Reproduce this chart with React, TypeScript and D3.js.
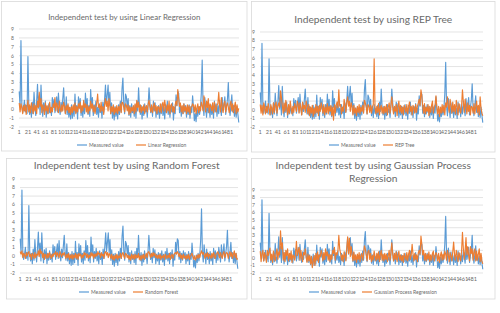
import React from 'react';
import * as d3 from 'd3';

const N_CATEGORIES = 505;
const xTickLabels = [1, 21, 41, 61, 81, 101, 121, 141, 161, 181, 201, 221, 241, 261, 281, 301, 321, 341, 361, 381, 401, 421, 441, 461, 481];
const yTicks = [-2, -1, 0, 1, 2, 3, 4, 5, 6, 7, 8, 9];

// sampled every 2nd observation: observation number = 1 + 2*i
const measured = [
  2.0, 0.3, 7.7, 0.5, -0.4, 0.2, 1.0, -0.3, 0.4, -0.5, 5.9, 0.6, -0.6, 0.3, -0.9, 0.8, -0.5, 1.9, 0.2, -0.7,
  0.9, 2.8, 0.1, 1.5, -0.6, 2.7, 0.4, -0.8, 0.7, -0.3, 0.9, -0.9, 0.3, -0.5, 0.6, -0.4, 0.2, -0.7, 1.3, 0.2,
  1.1, -0.4, 0.5, 1.4, -0.3, 1.8, 0.1, -0.6, 0.8, -0.2, 1.2, 2.4, 0.3, -0.5, 1.4, -0.6, 0.4, -0.9, 0.2, -1.1,
  0.5, -1.0, 0.3, -0.8, 1.7, -0.4, 0.4, -1.1, 1.4, 0.1, 1.2, -0.7, 0.3, -0.9, 0.6, -0.5, 1.8, 0.2, 1.2, -0.6,
  0.4, -0.8, 2.2, 0.3, 1.3, -0.7, 0.5, -0.3, 0.9, -0.6, 0.2, -0.9, 0.6, -0.4, 0.3, -1.0, 0.8, -0.3, 1.1, 2.7,
  0.5, 1.6, 2.7, 0.4, 1.9, -0.5, 0.7, -1.0, 0.2, -1.2, 0.3, -0.8, 0.1, -1.1, 0.5, -0.6, 0.9, -0.3, 2.3, 3.5,
  0.6, -0.5, 1.7, 1.4, 0.2, 1.2, -0.7, 0.4, -0.9, 0.6, -0.4, 0.2, -0.8, 0.5, -1.0, 0.9, -0.2, 2.4, 0.3, -0.6,
  0.4, -1.1, 0.2, -0.7, 0.6, -0.3, 0.1, -0.9, 0.5, 2.4, 0.8, -0.4, 0.3, -0.8, 0.9, -0.2, 0.7, -0.9, 0.2, -0.6,
  0.4, -1.0, 0.3, -0.5, 0.6, -0.7, 0.2, -1.1, 0.5, -0.4, 0.9, -0.6, 0.3, -0.9, 0.4, -0.3, 0.7, -1.2, 0.2, -0.5,
  1.6, 0.4, 2.0, 1.8, -0.4, 0.5, -0.8, 0.3, -0.5, 0.6, -0.3, 0.4, -0.9, 0.2, -0.6, 0.5, -1.0, 0.3, -0.4, 1.5,
  0.2, -1.3, -0.5, -1.4, 0.1, -0.8, 0.3, -0.6, 0.2, 1.8, 5.5, 0.4, -0.7, 1.3, 0.2, -0.9, 0.8, -0.4, 0.3, -0.9,
  0.5, -0.6, 0.2, -1.0, 0.9, -0.3, 0.6, -0.8, 0.4, -0.5, 1.0, 0.2, -0.7, 1.3, -0.2, 0.5, 1.4, -0.6, 0.3, 1.1,
  3.0, 0.2, -0.7, 0.5, 1.6, -0.3, 0.4, -0.8, 0.2, -0.9, 0.3, -0.6, -1.5,
];

const linearRegression = [
  0.7, -0.3, 0.6, 0.2, -0.5, 0.4, -0.2, 0.5, -0.6, 0.3, 1.0, -0.3, 0.5, -0.4, 0.7, 0.1, -0.5, 0.6, -0.2, 0.4,
  -0.5, 0.9, 0.2, 1.9, 0.3, 1.2, -0.4, 0.5, 0.1, -0.6, 0.7, -0.2, 0.4, -0.5, 0.3, 0.8, -0.4, 0.2, -0.3, 0.6,
  0.2, 1.3, -0.2, 0.7, 0.3, -0.4, 0.9, 0.1, -0.3, 0.5, -0.2, 0.8, 0.3, -0.5, 0.4, -0.1, 0.6, -0.4, 0.2, -0.6,
  0.3, -0.4, 0.5, -0.2, 0.7, -0.5, 0.3, -0.3, 0.6, 0.1, 0.8, -0.4, 0.4, -0.2, 1.0, 0.2, 0.6, -0.3, 0.5, -0.5,
  0.3, -0.2, 0.9, 0.1, 0.6, -0.3, 0.4, -0.5, 0.2, 0.7, 1.7, 0.2, 0.5, -0.3, 0.8, -0.2, 0.3, -0.6, 0.5, 1.2,
  0.3, 0.9, -0.2, 1.2, 0.4, -0.5, 0.3, -0.3, 0.5, -0.6, 0.2, -0.4, 0.4, -0.5, 0.3, -0.2, 0.6, -0.4, 0.8, 0.7,
  0.2, -0.3, 0.6, 0.4, -0.2, 0.5, -0.6, 0.3, -0.4, 0.2, -0.2, 0.4, -0.5, 0.6, -0.3, 1.0, 0.2, 0.8, -0.3, 0.5,
  -0.4, 0.3, -0.2, 0.5, -0.5, 0.2, 0.4, -0.3, 0.6, 1.0, 0.2, -0.3, 0.5, -0.4, 0.3, 0.7, -0.2, 0.4, -0.5, 0.3,
  0.2, -0.3, 0.6, -0.4, 0.5, 0.8, -0.2, 1.0, 0.3, -0.4, 0.5, -0.2, 0.9, -0.5, 0.4, 0.6, -0.3, 0.3, -0.4, 0.5,
  0.9, 0.4, 2.2, 1.2, 0.3, 0.7, -0.3, 0.4, -0.5, 0.6, -0.2, 0.3, -0.5, 0.5, -0.3, 0.4, -0.6, 0.2, 0.3, 0.6,
  0.4, -0.3, 0.5, -0.5, 0.2, 0.6, -0.4, 0.3, -0.2, 0.8, 0.4, -0.2, 1.5, 0.5, -0.3, 0.9, 0.2, 1.2, -0.4, 0.6,
  0.3, -0.2, 0.7, -0.4, 0.8, 0.2, -0.3, 0.5, 0.6, 1.9, 0.4, -0.3, 1.3, 0.2, -0.4, 0.6, 0.9, -0.3, 0.4, 0.7,
  0.2, -0.4, 0.5, 0.9, -0.2, 0.6, -0.4, 0.3, 0.8, -0.5, 0.5, -0.3, 0.1,
];

const repTree = [
  0.6, -0.4, 0.5, -0.6, 0.8, 0.3, -0.5, 0.4, -0.3, 0.7, 0.2, -0.6, 0.6, 0.1, -0.5, 0.8, -0.3, 0.5, 0.9, -0.4,
  0.4, 0.8, 0.3, 2.2, 1.4, 0.5, -0.4, 0.8, -0.2, 1.1, 0.3, -0.6, 0.6, -0.4, 1.0, 0.2, -0.5, 0.4, -0.3, 0.7,
  0.3, -0.2, 1.0, 0.6, -0.4, 0.8, 0.2, -0.6, 0.9, 0.1, 0.5, -0.3, 1.0, 0.4, -0.5, 0.6, -0.7, 0.3, -0.4, 0.5,
  -0.8, 0.2, -0.5, 0.6, -0.3, 0.4, -0.7, 0.5, -0.2, 0.8, 0.3, -0.4, 0.6, -0.6, 0.3, -0.3, 0.7, -0.5, 0.4, -0.2,
  0.5, -0.7, 0.3, -1.2, 0.6, -0.4, 0.5, 0.9, 0.2, 2.3, 0.4, 0.6, -0.5, 0.3, -0.2, 1.2, 0.5, -0.3, 0.9, 1.5,
  0.4, 1.0, -0.2, 0.8, 0.3, -0.6, 0.5, -0.4, 0.2, -0.7, 0.4, -0.3, 0.6, -0.5, 0.3, -0.2, 0.5, -0.4, 1.1, 0.8,
  0.3, -0.5, 0.6, 0.4, -0.3, 0.5, -0.4, 0.3, 0.6, 5.9, 0.2, -0.5, 0.4, -0.3, 0.7, -0.6, 0.2, 0.5, -0.4, 0.3,
  -0.5, 0.4, -0.3, 0.6, -0.6, 0.3, 0.8, -0.4, 0.5, 1.5, 0.3, -0.5, 0.4, -0.2, 0.6, -0.7, 0.3, 1.0, -0.3, 0.5,
  -0.4, 0.3, -0.6, 0.5, 0.2, -0.3, 0.6, -0.5, 0.3, 0.9, -0.2, 0.4, -0.6, 0.5, 0.2, -0.4, 0.6, -0.3, 0.4, 0.8,
  1.2, 0.5, 2.3, 1.6, 0.4, -0.4, 0.7, -0.5, 0.3, -0.2, 0.6, -0.7, 0.4, -0.3, 0.5, 1.0, -0.4, 0.3, 0.6, 1.6,
  0.2, -0.5, 0.4, -0.8, 0.3, -0.4, 0.6, -0.3, 0.5, -0.6, 0.8, 0.3, 1.5, 0.4, -0.3, 1.2, 0.5, -0.4, 0.9, -0.2,
  0.6, -0.5, 1.1, 0.3, -0.6, 0.7, 0.2, -0.4, 0.5, 2.3, 0.9, -0.3, 1.2, 0.4, -0.5, 0.8, -0.2, 0.5, -0.6, 0.4,
  0.3, -0.4, 0.7, -0.5, 0.4, 1.0, -0.3, 0.5, -0.6, 1.5, 0.2, -0.4, -0.7,
];

const randomForest = [
  0.5, 0.2, 0.6, -0.2, 0.3, 0.1, -0.3, 0.4, 0.0, 0.3, 0.5, -0.1, 0.2, -0.4, 0.3, 0.1, -0.3, 0.4, -0.2, 0.2,
  0.1, 0.6, -0.1, 0.8, 0.3, 0.5, -0.2, 0.3, -0.4, 0.2, 0.1, -0.3, 0.3, -0.2, 0.4, 0.0, -0.3, 0.2, -0.1, 0.3,
  0.2, 0.5, -0.1, 0.4, 0.1, -0.2, 0.5, 0.2, -0.1, 0.3, 0.1, 0.4, 0.0, -0.3, 0.2, -0.2, 0.3, -0.4, 0.1, -0.3,
  0.2, -0.4, 0.1, -0.2, 0.3, -0.3, 0.2, -0.4, 0.3, 0.0, 0.2, -0.3, 0.1, -0.2, 0.4, 0.1, 0.3, -0.2, 0.2, -0.3,
  0.1, -0.2, 0.4, 0.0, 0.3, -0.3, 0.2, -0.1, 0.3, 0.0, 0.5, 0.2, 0.3, -0.2, 0.4, 0.0, 0.2, -0.3, 0.4, 0.5,
  0.1, 0.4, -0.2, 0.3, 0.1, -0.3, 0.2, -0.4, 0.0, -0.5, 0.1, -0.3, 0.2, -0.4, 0.0, -0.2, 0.3, -0.3, 0.2, 0.4,
  0.0, -0.3, 0.3, 0.2, -0.2, 0.1, -0.4, 0.0, -0.5, 0.2, -0.3, 0.1, -0.4, 0.2, -0.3, 0.1, -0.2, 0.3, -0.4, 0.0,
  -0.5, 0.1, -0.3, 0.2, -0.4, 0.0, 0.3, -0.2, 0.4, 0.5, 0.2, -0.2, 0.3, -0.1, 0.4, 0.0, 0.3, -0.2, 0.1, -0.3,
  0.1, -0.3, 0.2, -0.4, 0.0, -0.2, 0.1, -0.4, 0.2, 0.0, -0.3, 0.1, -0.2, 0.3, -0.4, 0.0, 0.2, -0.3, 0.1, 0.3,
  0.4, 0.2, 0.5, 0.3, -0.1, 0.3, -0.3, 0.1, -0.4, 0.2, -0.2, 0.0, -0.4, 0.1, -0.3, 0.2, -0.4, 0.0, 0.1, 0.3,
  -0.1, -0.4, 0.0, -0.5, -0.2, 0.1, -0.3, 0.2, -0.2, 0.3, 0.6, 0.2, 0.4, 0.1, -0.3, 0.3, -0.1, 0.4, -0.3, 0.2,
  0.0, -0.3, 0.3, -0.2, 0.4, 0.0, -0.3, 0.2, 0.3, 0.5, 0.1, -0.2, 0.4, 0.0, -0.3, 0.3, 0.5, -0.2, 0.2, 0.4,
  0.3, -0.3, 0.2, 0.5, -0.1, 0.4, -0.3, 0.2, 0.6, -0.2, 0.3, -0.4, -0.3,
];

const gaussianProcess = [
  0.9, -0.5, 0.6, 1.0, -0.4, 0.7, 0.2, -0.6, 1.0, 0.3, 0.8, 1.3, -0.3, 0.5, -0.6, 0.9, 0.2, -0.4, 0.6, 1.2,
  -0.2, 0.8, 0.4, 3.6, 1.2, 2.0, -0.3, 0.7, -0.5, 1.0, 0.3, 1.2, -0.4, 0.6, -0.2, 0.9, -0.6, 0.4, 0.2, -0.3,
  0.5, 2.2, 0.3, 0.9, 1.4, -0.3, 1.0, 0.2, -0.5, 0.7, 0.4, 1.2, 0.1, -0.6, 0.5, -0.4, 0.3, -0.8, 0.2, -1.3,
  -0.5, 0.3, -1.0, 0.6, -0.3, 0.8, -0.6, 0.4, 0.2, 1.0, 0.5, -0.4, 0.7, -0.2, 1.2, 0.3, 0.8, -0.3, 0.5, -0.5,
  0.4, -0.2, 1.0, 0.6, 1.4, -0.3, 0.7, 0.4, 1.0, 3.0, 1.2, 0.6, -0.3, 0.4, -0.5, 0.8, 0.2, -0.4, 1.3, 2.8,
  0.6, 2.6, 0.2, 1.5, 0.5, -0.4, 0.8, -0.3, 0.4, -0.6, 0.5, -0.2, 0.7, -0.5, 0.3, 0.6, -0.3, 0.5, 1.6, 1.2,
  0.4, -0.4, 0.8, 1.0, -0.2, 0.6, -0.5, 0.3, -0.3, 0.9, 0.2, -0.4, 0.6, -0.2, 0.8, -0.5, 0.4, 1.0, -0.3, 0.5,
  -0.4, 0.6, -0.2, 0.5, -0.5, 0.3, 1.0, -0.3, 0.7, 2.0, 0.5, -0.4, 0.6, -0.2, 0.8, -0.5, 0.3, 0.9, -0.3, 0.4,
  -0.4, 0.3, -0.6, 0.6, 0.2, -0.3, 0.7, -0.4, 0.5, 1.0, -0.2, 0.4, 1.8, 0.5, -0.4, 0.6, -0.2, 0.4, -0.5, 0.7,
  1.0, 0.5, 2.9, 1.8, 0.4, 1.0, -0.3, 0.6, -0.4, 0.5, -0.2, 0.8, -0.5, 0.4, -0.3, 0.6, 0.9, -0.4, 0.3, 0.7,
  0.4, -0.4, 0.6, -0.6, 0.3, 0.8, -0.3, 0.5, -0.2, 0.9, 0.5, -0.3, 1.0, 0.4, -0.5, 0.7, 0.2, -0.4, 0.8, 2.1,
  0.5, -0.3, 1.0, 0.3, -0.5, 0.7, 0.2, -0.4, 0.9, 3.4, 1.2, -0.2, 1.0, 2.7, 0.4, 1.5, 0.3, -0.4, 1.5, 0.6,
  1.2, -0.3, 0.8, 1.2, -0.4, 0.9, -0.3, 0.5, 1.2, -0.5, 0.6, -0.4, -0.8,
];

const titles = [
  ['Independent test by using Linear Regression'],
  ['Independent test by using REP Tree'],
  ['Independent test by using Random Forest'],
  ['Independent test by using Gaussian Process', 'Regression'],
];
const seriesNames = ['Linear Regression', 'REP Tree', 'Random Forest', 'Gaussian Process Regression'];
const predictions = [linearRegression, repTree, randomForest, gaussianProcess];
const measuredName = 'Measured value';

// layout (pixels)
const layouts = [
  { box: [1.5, 1.5, 247, 151], plot: [19, 29, 239, 127], titleY: [20], titleSize: 7.9, xLabelY: 134, legendY: 145, legendX: [77, 136] },
  { box: [251.5, 1.5, 495, 152], plot: [260, 32, 483, 127], titleY: [23], titleSize: 10.2, xLabelY: 134, legendY: 145, legendX: [329, 383] },
  { box: [6.5, 158.5, 247, 299], plot: [20, 179, 238, 273], titleY: [169], titleSize: 10.2, xLabelY: 281, legendY: 292, legendX: [79, 133] },
  { box: [251.5, 158.5, 495, 299], plot: [260, 190, 483, 273], titleY: [169, 182], titleSize: 10.2, xLabelY: 281, legendY: 292, legendX: [309, 362] },
];

const BLUE = '#5B9BD5';
const ORANGE = '#ED7D31';
const GRID = '#D9D9D9';
const TEXT = '#6A6A6A';
const FONT = 'Lato, "Open Sans", sans-serif';

function Panel({ idx }: { idx: number }) {
  const L = layouts[idx];
  const [px0, py0, px1, py1] = L.plot;
  const x = d3.scaleLinear().domain([0.5, N_CATEGORIES + 0.5]).range([px0, px1]);
  const y = d3.scaleLinear().domain([-2, 9]).range([py1, py0]);
  const line = d3
    .line<number>()
    .x((_, i) => x(1 + 2 * i))
    .y((d) => y(d));
  const [bx0, by0, bx1, by1] = L.box;
  const cx = (bx0 + bx1) / 2;
  return (
    <g>
      <rect x={bx0} y={by0} width={bx1 - bx0} height={by1 - by0} fill="#fff" stroke={GRID} strokeWidth={0.8} />
      {titles[idx].map((t, k) => (
        <text key={k} x={cx} y={L.titleY[k]} textAnchor="middle" fontSize={L.titleSize} fill={TEXT} fontFamily={FONT}>
          {t}
        </text>
      ))}
      {yTicks.map((t) => (
        <g key={t}>
          <line x1={px0} x2={px1} y1={y(t)} y2={y(t)} stroke={GRID} strokeWidth={0.7} />
          <text x={px0 - 5} y={y(t) + 1.8} textAnchor="end" fontSize={5} fill={TEXT} fontFamily={FONT}>
            {t}
          </text>
        </g>
      ))}
      {xTickLabels.map((t) => (
        <text key={t} x={x(t)} y={L.xLabelY} textAnchor="middle" fontSize={5.6} fill={TEXT} fontFamily={FONT}>
          {t}
        </text>
      ))}
      <path d={line(measured) || ''} fill="none" stroke={BLUE} strokeWidth={1.15} strokeLinejoin="round" />
      <path d={line(predictions[idx]) || ''} fill="none" stroke={ORANGE} strokeWidth={1.15} strokeLinejoin="round" />
      <line x1={L.legendX[0]} x2={L.legendX[0] + 10} y1={L.legendY} y2={L.legendY} stroke={BLUE} strokeWidth={1.2} />
      <text x={L.legendX[0] + 12} y={L.legendY + 1.8} fontSize={5} fill={TEXT} fontFamily={FONT}>
        {measuredName}
      </text>
      <line x1={L.legendX[1]} x2={L.legendX[1] + 10} y1={L.legendY} y2={L.legendY} stroke={ORANGE} strokeWidth={1.2} />
      <text x={L.legendX[1] + 12} y={L.legendY + 1.8} fontSize={5} fill={TEXT} fontFamily={FONT}>
        {seriesNames[idx]}
      </text>
    </g>
  );
}

export default function App() {
  return (
    <svg
      width={500}
      height={313}
      viewBox="0 0 500 313"
      style={{ position: 'absolute', left: 0, top: 0, background: '#fff' }}
    >
      <rect x={0} y={0} width={500} height={313} fill="#fff" />
      {[0, 1, 2, 3].map((i) => (
        <Panel key={i} idx={i} />
      ))}
    </svg>
  );
}
